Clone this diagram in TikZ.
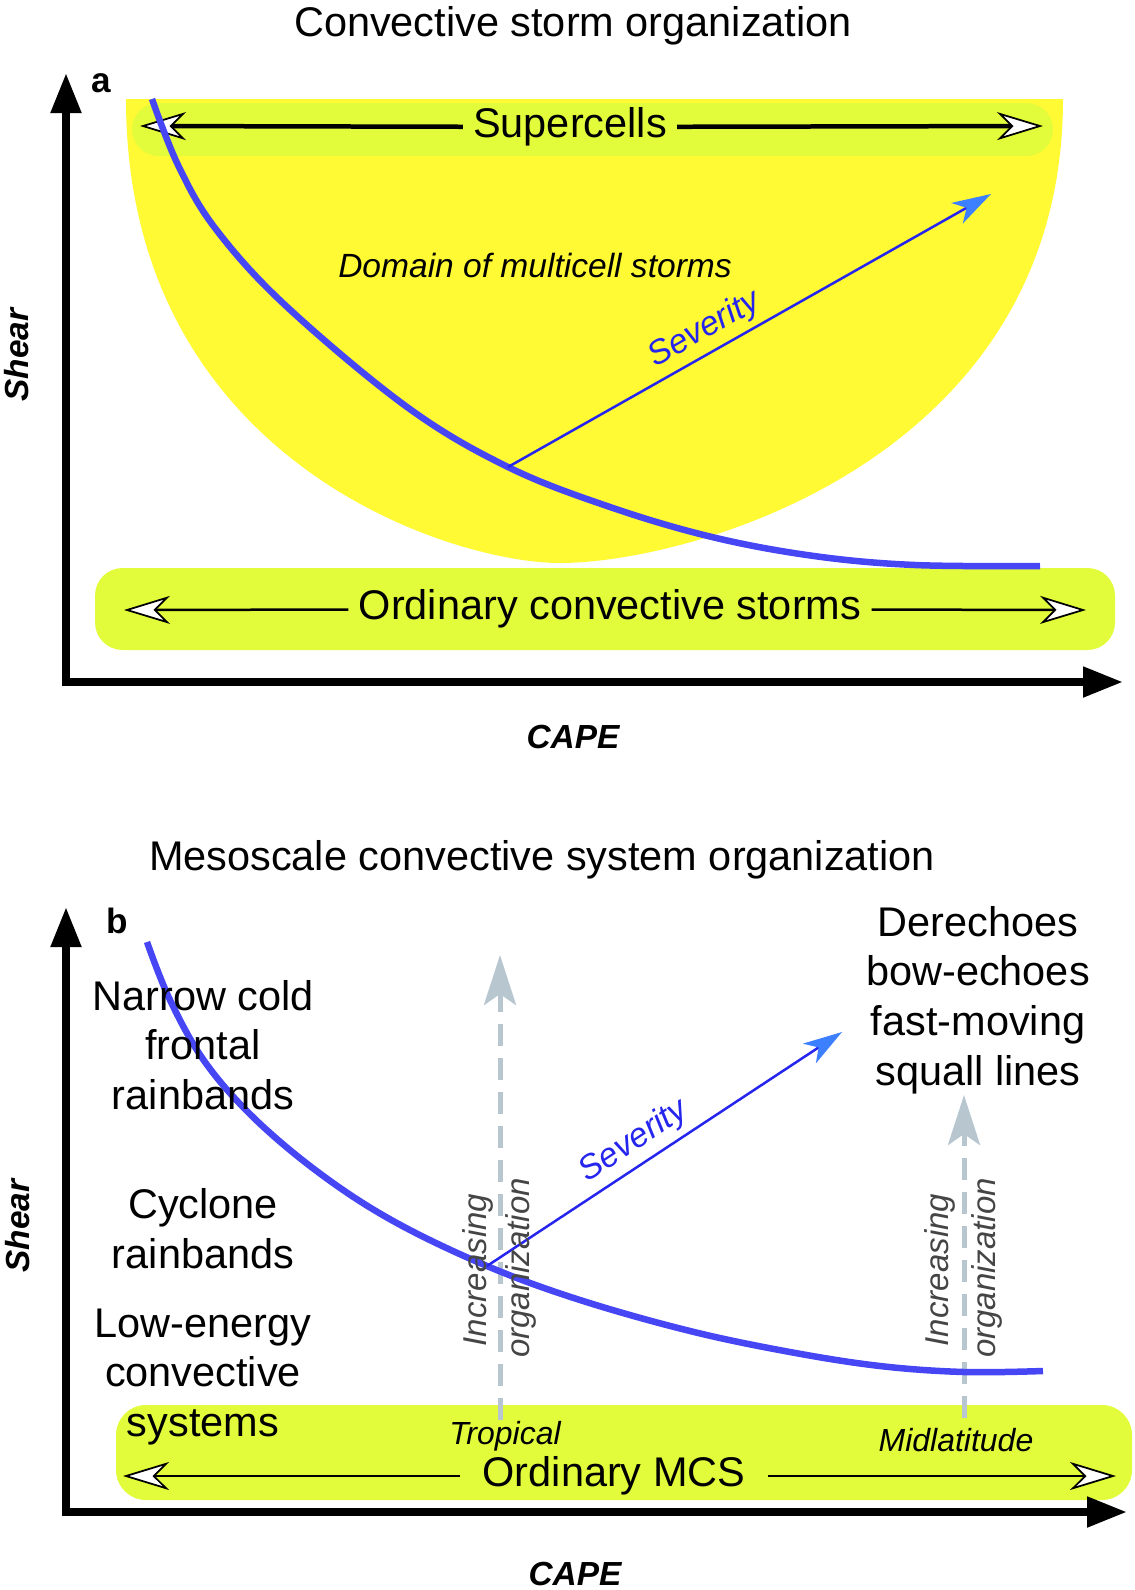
\documentclass[tikz,border=0pt]{standalone}
\usepackage{fontspec}
\setmainfont{Liberation Sans}
\usetikzlibrary{arrows.meta,positioning}
\definecolor{domainyellow}{HTML}{FFFA33}
\definecolor{bandyellow}{HTML}{E2FC3B}
\definecolor{curveblue}{HTML}{4646F5}
\definecolor{sevblue}{HTML}{2525EE}
\definecolor{sevhead}{HTML}{3D80FF}
\definecolor{orggray}{HTML}{B8C6CF}
\definecolor{orgtext}{HTML}{454545}

\begin{document}
\begin{tikzpicture} [
	x=0.02cm, y=-0.02cm,
	big/.style = {font=\fontsize{23.6}{28.3}\selectfont, align=center, inner sep=0pt},
	textgap/.style = {inner xsep=0.2cm},
	axisline/.style = {line width=0.16cm, line join=miter,
		{Triangle[length=0.8cm, width=0.58cm]}-{Triangle[length=0.8cm, width=0.58cm]}},
	axlabel/.style = {font=\fontsize{19}{22}\selectfont\bfseries\itshape, inner sep=0pt},
	panel/.style = {font=\fontsize{20}{22}\selectfont\bfseries, inner sep=0pt},
	bandbox/.style = {fill=bandyellow, rounded corners=0.55cm},
	rangearrow/.style = {-{Stealth[length=0.92cm, width=0.56cm, inset=0.28cm, fill=white, line width=1pt]}},
	stormcurve/.style = {draw=curveblue, line width=0.13cm},
	severity/.style = {draw=sevblue, line width=0.05cm,
		-{Stealth[length=0.78cm, width=0.47cm, inset=0.22cm, color=sevhead]}},
	sevlabel/.style = {font=\fontsize{19.3}{22}\selectfont\itshape, text=sevblue, sloped, above, inner sep=0.12cm},
	orgarrow/.style = {draw=orggray, line width=0.1cm, dash pattern=on 0.44cm off 0.24cm,
		-{Stealth[length=1cm, width=0.64cm, inset=0.22cm]}},
	orglabel/.style = {font=\fontsize{18.8}{22}\selectfont\itshape, text=orgtext, rotate=90, inner sep=0pt},
	regionlabel/.style = {font=\fontsize{18.2}{20}\selectfont\itshape, inner sep=0pt},
]
\useasboundingbox (0,0) rectangle (1134,1590);

% (a) convective storm organization
\node [big] (titleA) at (573,26) {Convective storm organization};
\fill [domainyellow] (126,99) -- (1063,99) .. controls (1063,460) and (690,563) .. (560,563)
	.. controls (450,563) and (126,460) .. cycle;
\fill [bandbox, rounded corners=0.53cm] (132,103) rectangle (1053,156);
\fill [bandbox] (95,568) rectangle (1115,650);
\draw [axisline] (66,73) -- (66,682) -- (1123,682);
\node [panel] (labA) at (101,83) {a};
\node [axlabel, rotate=90] (shearA) at (17,355) {Shear};
\node [axlabel] (capeA) at (573,737) {CAPE};

\node [big, textgap] (super) at (570,127) {Supercells};
\coordinate (superL) at (140,126);
\coordinate (superR) at (1043,126);
\draw [rangearrow, line width=0.09cm] (super) -- (superL);
\draw [rangearrow, line width=0.09cm] (super) -- (superR);

\node [big, textgap] (ordA) at (610,609) {Ordinary convective storms};
\coordinate (ordAL) at (124,610);
\coordinate (ordAR) at (1086,610);
\draw [rangearrow, line width=0.05cm] (ordA) -- (ordAL);
\draw [rangearrow, line width=0.05cm] (ordA) -- (ordAR);

\draw [stormcurve] plot [smooth, tension=0.6] coordinates {(152,99) (178,165) (215,228) (285,305) (407,407)
	(508,467) (610,507) (712,537) (814,556) (915,565) (1040,566)};
\coordinate (sevA0) at (508,467);
\coordinate (sevA1) at (991,194);
\draw [severity] (sevA0) -- node [sevlabel, pos=0.43] {Severity} (sevA1);
\node [font=\fontsize{19.1}{22}\selectfont\itshape, inner sep=0pt] (multi) at (535,265) {Domain of multicell storms};

% (b) mesoscale convective system organization
\node [big] (titleB) at (542,860) {Mesoscale convective system organization};
\fill [bandbox, rounded corners=0.6cm] (116,1405) rectangle (1132,1500);
\draw [axisline] (66,907) -- (66,1512) -- (1127,1512);
\node [panel] (labB) at (117,921) {b};
\node [axlabel, rotate=90] (shearB) at (18,1226) {Shear};
\node [axlabel] (capeB) at (575,1574) {CAPE};

\node [big, textgap, inner xsep=0.45cm] (mcs) at (614,1476) {Ordinary MCS};
\coordinate (mcsL) at (123,1476);
\coordinate (mcsR) at (1116,1476);
\draw [rangearrow, line width=0.04cm] (mcs) -- (mcsL);
\draw [rangearrow, line width=0.04cm] (mcs) -- (mcsR);

\coordinate (tropBot) at (500,1420);
\coordinate (tropTop) at (500,955);
\coordinate (midBot) at (964,1418);
\coordinate (midTop) at (964,1095);
\draw [orgarrow] (tropBot) -- (tropTop);
\draw [orgarrow] (midBot) -- (midTop);

\draw [stormcurve] plot [smooth, tension=0.6] coordinates {(147,942) (170,1000) (205,1062) (255,1119) (322,1175)
	(395,1222) (487,1266) (580,1300) (690,1331) (790,1352) (880,1366) (964,1372) (1043,1371)};
\coordinate (sevB0) at (487,1266);
\coordinate (sevB1) at (842,1032);
\draw [severity] (sevB0) -- node [sevlabel, pos=0.45] {Severity} (sevB1);

\node [orglabel] (incT) at (478,1270) {Increasing};
\node [orglabel] (orgT) at (521,1268) {organization};
\node [orglabel] (incM) at (940,1270) {Increasing};
\node [orglabel] (orgM) at (987,1268) {organization};
\node [regionlabel] (trop) at (505,1436) {Tropical};
\node [regionlabel] (midlat) at (956,1440) {Midlatitude};

\node [big] (narrow) at (203,1045) {Narrow cold\\frontal\\rainbands};
\node [big] (cyclone) at (203,1229) {Cyclone\\rainbands};
\node [big] (lowen) at (203,1377) {Low-energy\\convective\\systems};
\node [big] (derecho) at (978,1000) {Derechoes\\bow-echoes\\fast-moving\\squall lines};
\end{tikzpicture}
\end{document}
